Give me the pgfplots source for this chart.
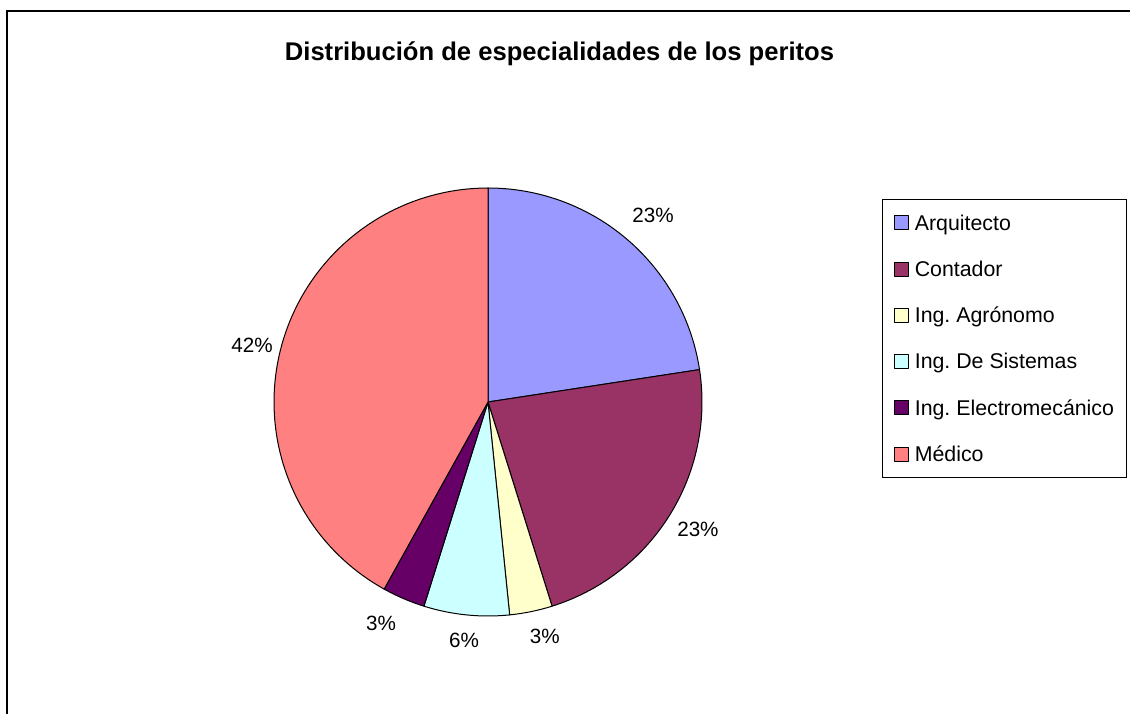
\documentclass[border=0pt]{standalone}
\usepackage{pgfplots}
\pgfplotsset{compat=1.18}
\usepackage{pgfplotstable}
\usepackage{fontspec}
\setmainfont{Liberation Sans}
\frenchspacing
\definecolor{cArq}{HTML}{9999FF}
\definecolor{cCon}{HTML}{993366}
\definecolor{cAgr}{HTML}{FFFFCC}
\definecolor{cSis}{HTML}{CCFFFF}
\definecolor{cEle}{HTML}{660066}
\definecolor{cMed}{HTML}{FF8080}

% label, count, colour, position of the percentage label (axis units, radius = 1)
\pgfplotstableread[col sep=comma]{
label,value,color,lx,ly
Arquitecto,7,cArq,0.771,0.874
Contador,7,cCon,0.981,-0.593
Ing. Agrónomo,1,cAgr,0.266,-1.093
Ing. De Sistemas,2,cSis,-0.112,-1.112
Ing. Electromecánico,1,cEle,-0.50,-1.033
Médico,13,cMed,-1.103,0.266
}\piedata

\tikzset{pct/.style={font=\fontsize{15.5pt}{18pt}\selectfont, inner sep=0pt}}

\begin{document}
\begin{tikzpicture}
\path[use as bounding box] (0pt,0pt) rectangle (847.5pt,534.75pt);
\fill[white] (0pt,0pt) rectangle (847.5pt,534.75pt);
\draw[line width=1.7pt] (5.25pt,-10pt) -- (5.25pt,526.5pt) -- (870pt,526.5pt);
\node[font=\fontsize{19.2pt}{22pt}\selectfont\bfseries, anchor=base, inner sep=0pt] at (419.6pt,489pt) {Distribución de especialidades de los peritos};

\pgfplotstablegetrowsof{\piedata}
\pgfmathtruncatemacro\N{\pgfplotsretval-1}
\def\total{0}
\pgfplotsforeachungrouped \i in {0,...,\N}{%
  \pgfplotstablegetelem{\i}{value}\of\piedata
  \pgfmathsetmacro\total{\total+\pgfplotsretval}%
}

\begin{axis}[
  at={(366pt,233.25pt)}, anchor=center,
  x=160.5pt, y=160.5pt,
  xmin=-1, xmax=1, ymin=-1, ymax=1,
  enlargelimits=false, hide axis, clip=false,
  legend cell align=left,
  legend image code/.code={\draw[#1, draw=black, line width=0.75pt] (0pt,-5.25pt) rectangle (10.5pt,5.25pt);},
  legend style={at={(axis cs:1.841,0.9486)}, anchor=north west,
    draw=black, line width=0.75pt,
    font=\fontsize{16pt}{19pt}\selectfont,
    row sep=19.7pt, inner xsep=9pt, inner ysep=10pt,
    nodes={inner sep=0pt, text height=13pt, text depth=2pt, anchor=west},
    /tikz/every odd column/.style={column sep=4pt}},
]
\def\cum{0}
\pgfplotsforeachungrouped \i in {0,...,\N}{%
  \pgfplotstablegetelem{\i}{value}\of\piedata \let\v\pgfplotsretval
  \pgfplotstablegetelem{\i}{color}\of\piedata \let\c\pgfplotsretval
  \pgfplotstablegetelem{\i}{label}\of\piedata \let\l\pgfplotsretval
  \pgfplotstablegetelem{\i}{lx}\of\piedata \let\lx\pgfplotsretval
  \pgfplotstablegetelem{\i}{ly}\of\piedata \let\ly\pgfplotsretval
  \pgfmathsetmacro\a{90-360*\cum/\total}%
  \pgfmathsetmacro\cum{\cum+\v}%
  \pgfmathsetmacro\b{90-360*\cum/\total}%
  \pgfmathtruncatemacro\pc{round(100*\v/\total)}%
  \edef\temp{%
    \noexpand\addplot[fill=\c, draw=black, line width=0.75pt, line join=round,
      domain=\b:\a, samples=90, variable=\noexpand\t]
      ({cos(\noexpand\t)},{sin(\noexpand\t)}) -- (axis cs:0,0) -- cycle;
    \noexpand\addlegendentry{\l}
    \noexpand\node[pct] at (axis cs:\lx,\ly) {\pc\noexpand\%};
  }\temp
}
\end{axis}
\end{tikzpicture}
\end{document}
